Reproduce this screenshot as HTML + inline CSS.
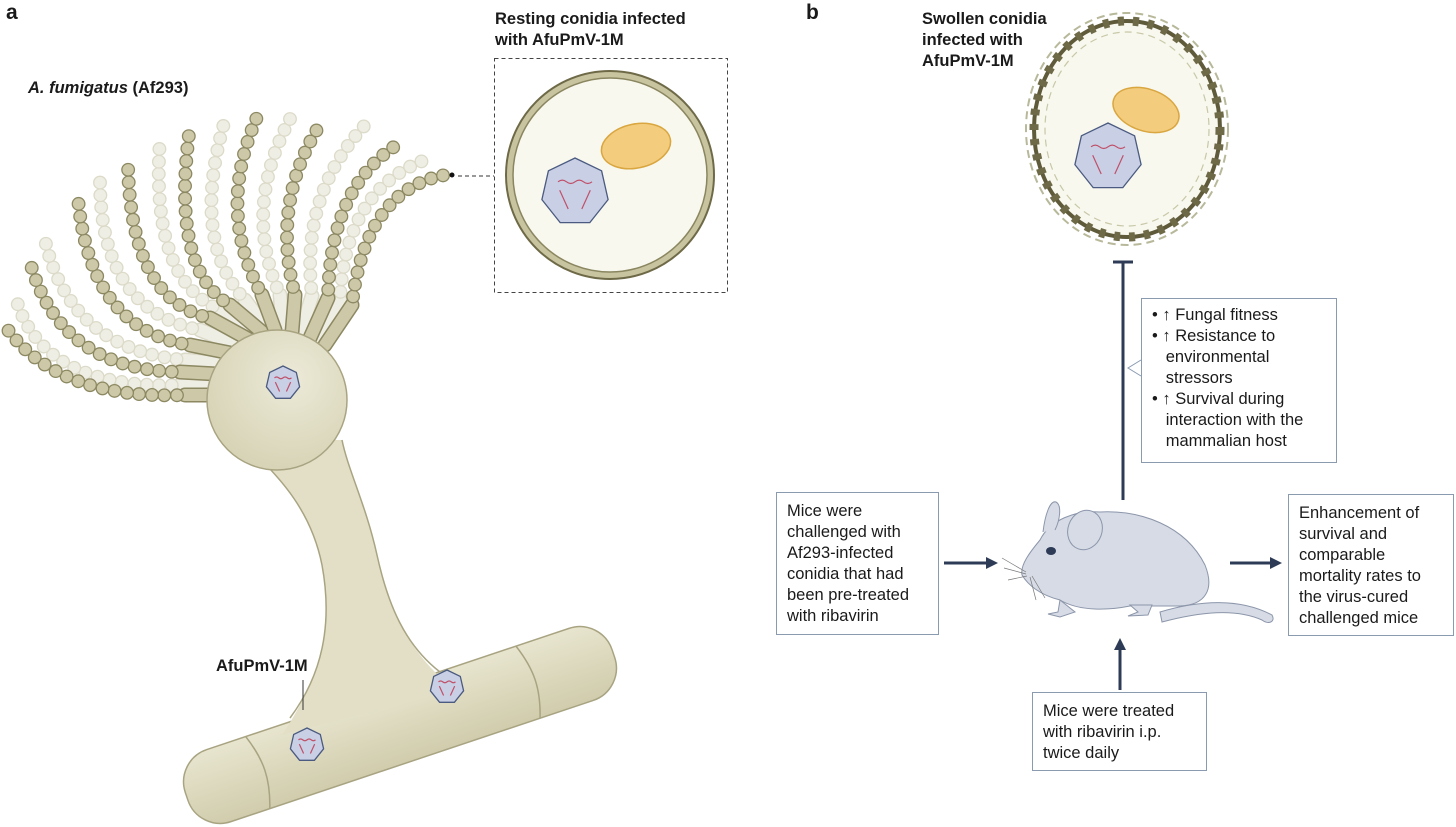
<!DOCTYPE html>
<html><head><meta charset="utf-8"><style>
body{margin:0;background:#fff;width:1456px;height:827px;overflow:hidden;font-family:"Liberation Sans",sans-serif;}
.t{position:absolute;font-size:16.5px;line-height:21px;color:#1a1a1a;}
.b{font-weight:bold;}
.box{position:absolute;border:1px solid #8a9bb0;background:#fff;box-sizing:border-box;padding:8px 10px;font-size:16.5px;line-height:21px;color:#1a1a1a;}
</style></head><body>
<svg id="s" width="1456" height="827" style="position:absolute;left:0;top:0">
<defs>
<radialGradient id="ves" cx="0.6" cy="0.35" r="0.7"><stop offset="0" stop-color="#ecead8"/><stop offset="1" stop-color="#d6d2b4"/></radialGradient>
<linearGradient id="hy" x1="0" y1="0" x2="0" y2="1"><stop offset="0" stop-color="#e8e5cf"/><stop offset="1" stop-color="#d0ccac"/></linearGradient>
</defs>
<g id="chains"></g>
<!-- hypha -->
<g transform="translate(400,725) rotate(-18.5)">
<rect x="-225" y="-38" width="450" height="76" rx="34" fill="url(#hy)" stroke="#a8a482" stroke-width="1.5"/>
<path d="M-150,-38 C-140,-10 -140,10 -150,38" fill="none" stroke="#a8a482" stroke-width="1.5"/>
<path d="M135,-38 C145,-10 145,10 135,38" fill="none" stroke="#a8a482" stroke-width="1.5"/>
</g>
<!-- stipe -->
<path d="M240,440 C285,480 312,515 322,565 C333,625 322,675 282,735 L455,690 C405,650 388,605 377,555 C366,505 348,470 342,440 Z" fill="#e2dfc6"/>
<path d="M240,440 C285,480 312,515 322,565 C333,625 322,675 290,718" fill="none" stroke="#a8a482" stroke-width="1.5"/>
<path d="M342,440 C348,470 366,505 377,555 C388,605 405,645 440,672" fill="none" stroke="#a8a482" stroke-width="1.5"/>
<circle cx="277" cy="400" r="70" fill="url(#ves)" stroke="#a8a482" stroke-width="1.5"/>
<line x1="303" y1="710" x2="303" y2="680" stroke="#333" stroke-width="1"/>
<!-- resting conidia -->
<line x1="458" y1="176" x2="494" y2="176" stroke="#333" stroke-dasharray="4,3"/>
<circle cx="452" cy="175" r="2.5" fill="#111"/>
<rect x="494.5" y="58.5" width="233" height="234" fill="none" stroke="#444" stroke-dasharray="4,3"/>
<circle cx="610" cy="175" r="104" fill="#c8c4a0" stroke="#6e6a48" stroke-width="2"/>
<circle cx="610" cy="175" r="97" fill="#f8f8ee" stroke="#8a8660" stroke-width="1.5"/>
<ellipse cx="636" cy="146" rx="35" ry="22" transform="rotate(-12 636 146)" fill="#f3cc7e" stroke="#d9a640" stroke-width="1.5"/>
<!-- swollen -->
<ellipse cx="1127" cy="129" rx="101" ry="116" fill="none" stroke="#b8b89a" stroke-width="2" stroke-dasharray="8,5"/>
<ellipse cx="1127" cy="129" rx="93" ry="108" fill="#f8f8ee" stroke="#5e5a3a" stroke-width="4"/>
<ellipse cx="1127" cy="129" rx="93" ry="108" fill="none" stroke="#6e6a48" stroke-width="9" stroke-dasharray="6,9"/>
<ellipse cx="1127" cy="129" rx="82" ry="97" fill="none" stroke="#c8c8a8" stroke-width="1.2" stroke-dasharray="7,5"/>
<ellipse cx="1146" cy="110" rx="34" ry="21" transform="rotate(18 1146 110)" fill="#f3cc7e" stroke="#d9a640" stroke-width="1.5"/>
<g id="viruses"></g>
<!-- connectors -->
<g stroke="#2d3b57" stroke-width="3" fill="#2d3b57">
<line x1="1123" y1="262" x2="1123" y2="500"/><line x1="1113" y1="262" x2="1133" y2="262"/>
<line x1="944" y1="563" x2="988" y2="563"/><polygon points="998,563 986,557 986,569" stroke="none"/>
<line x1="1230" y1="563" x2="1272" y2="563"/><polygon points="1282,563 1270,557 1270,569" stroke="none"/>
<line x1="1120" y1="690" x2="1120" y2="648"/><polygon points="1120,638 1114,650 1126,650" stroke="none"/>
</g>
<path d="M1141,360 L1128,368 L1141,376" fill="#fff" stroke="#8a9bb0"/>
<!-- mouse -->
<g stroke="#8c96aa" stroke-width="1" fill="#d6dbe6">
<path d="M1160,612 C1200,600 1240,598 1272,615 C1276,622 1268,625 1262,620 C1235,608 1200,612 1162,622 Z"/>
<path d="M1040,540 C1050,520 1075,510 1100,512 C1140,510 1185,525 1205,565 C1215,590 1205,605 1180,606 L1130,606 C1110,610 1080,612 1060,600 C1040,595 1028,585 1022,575 C1020,565 1030,552 1040,540 Z"/>
<path d="M1043,532 C1045,515 1050,500 1056,502 C1062,505 1060,520 1055,530"/>
<ellipse cx="1085" cy="530" rx="17" ry="20" transform="rotate(20 1085 530)"/>
<path d="M1060,600 L1058,612 L1048,614 L1060,617 L1075,612 Z"/>
<path d="M1130,605 L1138,612 L1128,616 L1148,615 L1152,605 Z"/>
</g>
<ellipse cx="1051" cy="551" rx="5" ry="4" fill="#2d3b57"/>
<g stroke="#777" stroke-width="0.7" fill="none"><path d="M1026,572 L1002,558 M1026,574 L1004,568 M1027,576 L1008,580 M1030,577 L1036,600 M1032,576 L1045,598"/></g>
</svg>
<div class="t b" style="left:6px;top:2px;font-size:21px">a</div>
<div class="t b" style="left:806px;top:2px;font-size:21px">b</div>
<div class="t" style="left:28px;top:78px;font-weight:bold"><i>A. fumigatus</i> (Af293)</div>
<div class="t b" style="left:495px;top:9px">Resting conidia infected<br>with AfuPmV-1M</div>
<div class="t b" style="left:922px;top:9px">Swollen conidia<br>infected with<br>AfuPmV-1M</div>
<div class="t b" style="left:216px;top:656px">AfuPmV-1M</div>
<div class="box" style="left:1141px;top:298px;width:196px;height:165px;padding:6px 10px">• <b>↑</b> Fungal fitness<br>• <b>↑</b> Resistance to<br>&nbsp;&nbsp;&nbsp;environmental<br>&nbsp;&nbsp;&nbsp;stressors<br>• <b>↑</b> Survival during<br>&nbsp;&nbsp;&nbsp;interaction with the<br>&nbsp;&nbsp;&nbsp;mammalian host</div>
<div class="box" style="left:776px;top:492px;width:163px;height:143px">Mice were<br>challenged with<br>Af293-infected<br>conidia that had<br>been pre-treated<br>with ribavirin</div>
<div class="box" style="left:1288px;top:494px;width:166px;height:142px">Enhancement of<br>survival and<br>comparable<br>mortality rates to<br>the virus-cured<br>challenged mice</div>
<div class="box" style="left:1032px;top:692px;width:175px;height:79px">Mice were treated<br>with ribavirin i.p.<br>twice daily</div>
<script>
const NS="http://www.w3.org/2000/svg";
function el(p,t,a){const e=document.createElementNS(NS,t);for(const k in a)e.setAttribute(k,a[k]);p.appendChild(e);return e;}
const g=document.getElementById('chains');
function q(p0,c,p2,t){const u=1-t;return [u*u*p0[0]+2*u*t*c[0]+t*t*p2[0],u*u*p0[1]+2*u*t*c[1]+t*t*p2[1]];}
function chain(base,p0,c,p2,dark){
 const fill=dark?'#cdc9a8':'#efeee4',st=dark?'#8c8862':'#dcdac8';
 el(g,'path',{d:`M${base[0]},${base[1]} L${p0[0]},${p0[1]}`,stroke:st,'stroke-width':15,'stroke-linecap':'round'});
 el(g,'path',{d:`M${base[0]},${base[1]} L${p0[0]},${p0[1]}`,stroke:fill,'stroke-width':12,'stroke-linecap':'round'});
 const pts=[];for(let i=0;i<=400;i++)pts.push(q(p0,c,p2,i/400));
 let acc=0,next=8,out=[];
 for(let i=1;i<pts.length;i++){acc+=Math.hypot(pts[i][0]-pts[i-1][0],pts[i][1]-pts[i-1][1]);if(acc>=next){out.push(pts[i]);next+=12.5;}}
 out.forEach(p=>el(g,'circle',{cx:p[0],cy:p[1],r:6.3,fill:fill,stroke:st,'stroke-width':1.3}));
}
const L=[
 [[230,395],[185,395],[60,400],[8,330]],
 [[235,375],[180,372],[60,370],[30,262]],
 [[240,355],[190,345],[90,330],[78,198]],
 [[250,340],[210,318],[130,300],[128,163]],
 [[262,332],[230,305],[170,270],[190,127]],
 [[275,330],[262,295],[215,210],[258,115]],
 [[292,332],[295,295],[270,200],[323,120]],
 [[310,338],[328,298],[330,185],[400,143]],
 [[325,345],[352,305],[365,190],[445,175]]
];
const Lt=[
 [[232,385],[180,385],[40,390],[15,295]],
 [[238,365],[185,360],[70,350],[45,240]],
 [[245,348],[200,330],[100,310],[100,180]],
 [[256,336],[220,310],[150,280],[160,140]],
 [[268,331],[245,300],[190,240],[225,120]],
 [[283,331],[280,295],[240,205],[295,110]],
 [[300,334],[312,296],[300,195],[365,125]],
 [[318,341],[340,300],[345,190],[425,160]]
];
Lt.forEach(c=>chain(c[0],c[1],c[2],c[3],false));
L.forEach(c=>chain(c[0],c[1],c[2],c[3],true));
const v=document.getElementById('viruses');
function virus(cx,cy,r){let p=[];for(let i=0;i<7;i++){const a=-Math.PI/2+i*2*Math.PI/7;p.push((cx+r*Math.cos(a)).toFixed(1)+','+(cy+r*Math.sin(a)).toFixed(1));}
 el(v,'polygon',{points:p.join(' '),fill:'#c9cfe4',stroke:'#4a5a80','stroke-width':1.3});
 const w=r*0.5;el(v,'path',{d:`M${cx-w},${cy-w*0.6} q${w/4},-${w/5} ${w/2},0 t${w/2},0 t${w/2},0 t${w/2},0 M${cx-w*0.9},${cy-w*0.1} l${w*0.5},${w*1.1} M${cx+w*0.9},${cy-w*0.1} l-${w*0.5},${w*1.1}`,fill:'none',stroke:'#c0506a','stroke-width':1.2});}
virus(283,383,17);virus(447,687,17);virus(307,745,17);virus(575,192,34);virus(1108,157,34);
</script>
</body></html>
